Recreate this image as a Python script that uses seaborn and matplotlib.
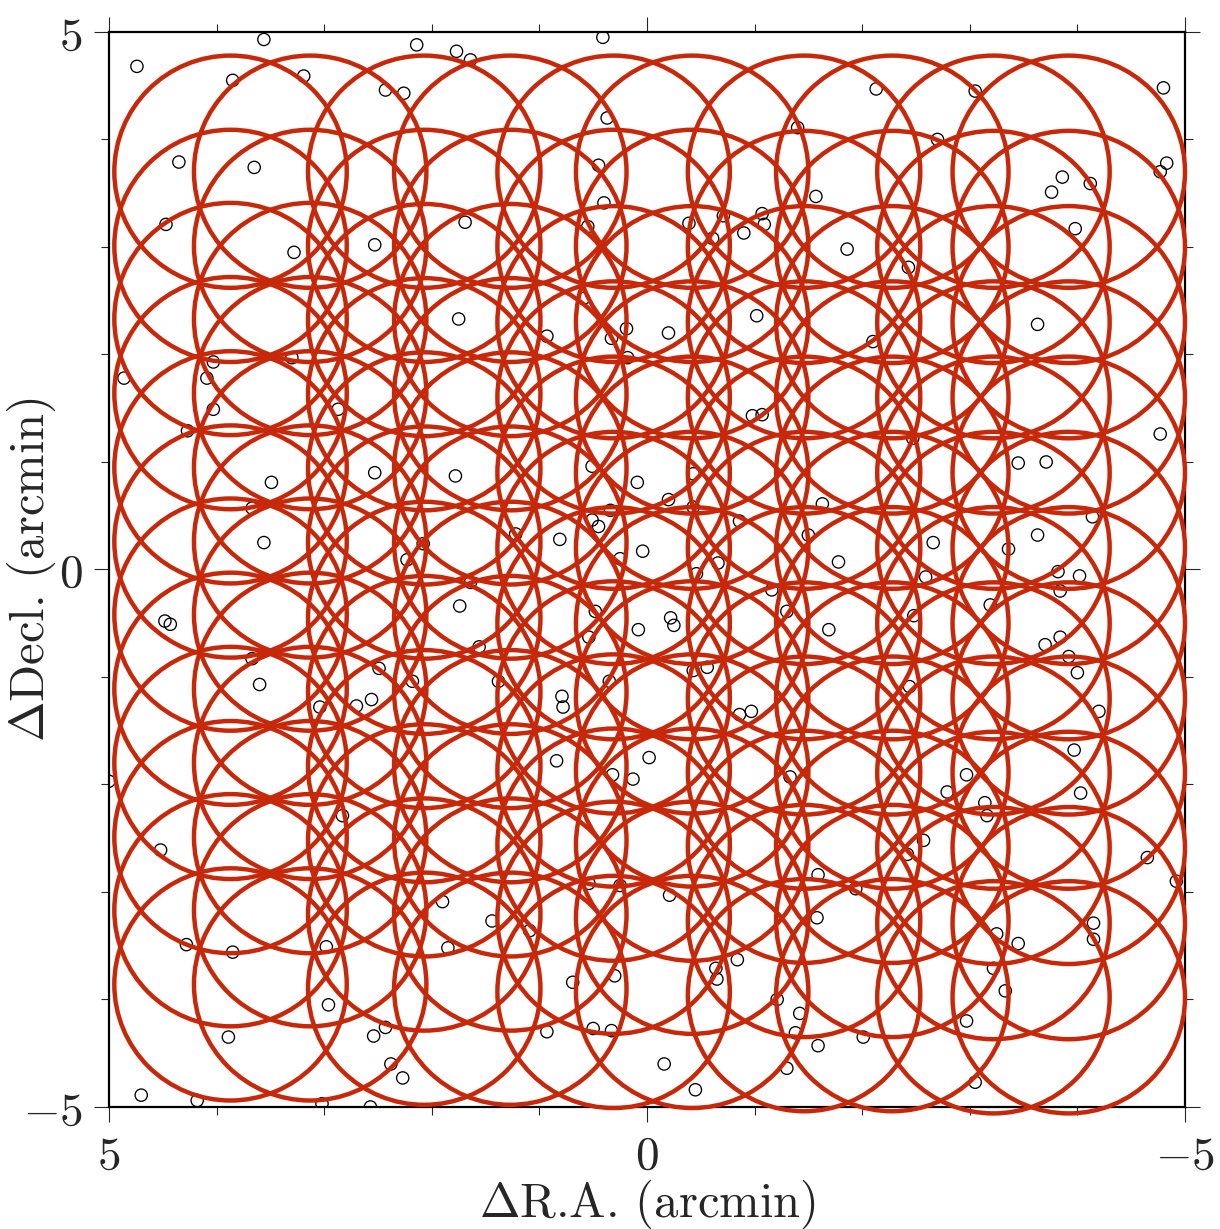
import pandas as pd
import seaborn as sns
import matplotlib.pyplot as plt
from matplotlib.patches import Circle
from matplotlib.ticker import MultipleLocator

# Pointing centres (arcmin). One R.A. per column, 12 declinations per column
col_ra = [3.87, 3.13, 2.07, 1.27, 0.31, -0.42, -1.46, -2.28, -3.22, -3.92]
dec_cols12 = [3.70, 3.01, 2.33, 1.64, 0.95, 0.26, -0.42, -1.11, -1.80, -2.49, -3.17, -3.86]
dec_cols34 = [3.70, 3.01, 2.32, 1.63, 0.94, 0.25, -0.45, -1.14, -1.83, -2.52, -3.21, -3.90]
dec_cols56 = [3.70, 3.01, 2.30, 1.60, 0.90, 0.20, -0.50, -1.19, -1.87, -2.56, -3.24, -3.93]
dec_cols78 = [3.70, 3.00, 2.30, 1.60, 0.90, 0.20, -0.50, -1.20, -1.89, -2.58, -3.27, -3.96]
dec_cols910 = [3.70, 3.00, 2.30, 1.60, 0.90, 0.20, -0.50, -1.20, -1.89, -2.59, -3.29, -3.98]
col_dec = [dec_cols12, dec_cols12, dec_cols34, dec_cols34, dec_cols56,
           dec_cols56, dec_cols78, dec_cols78, dec_cols910, dec_cols910]
beam_radius = 1.08

# Sources (arcmin offsets)
src_ra = [4.74, 3.56, 3.85, 3.19, 2.14, 1.77, 1.64, 2.43, 2.26, 0.41,
          -2.13, -3.05, -4.80, 0.37, -1.40, -2.70, 4.35, 3.65, 0.45, -4.83,
          -4.77, -3.86, -4.12, -3.76, -1.57, 0.40, 4.47, 1.69, 0.55, -0.39,
          -0.71, -1.07, -1.09, -0.90, -0.61, -3.98, 3.28, 2.53, -1.86, -2.43,
          1.75, -1.02, -3.63, 0.93, 0.19, 0.18, 0.33, -0.20, 3.30, -2.10,
          4.03, 4.09, 4.86, 4.03, 4.27, 2.87, -0.98, -1.07, -2.47, -4.77,
          2.53, 3.49, 1.78, 0.51, 0.09, -0.20, -3.45, -3.71, 3.67, 3.56,
          1.22, 0.81, 0.34, 0.45, 0.51, 0.25, 0.04, -0.43, -1.63, -1.50,
          -1.78, -0.86, -2.66, -3.36, -3.63, -4.14, 2.23, 2.08, 1.64, -1.16,
          -2.59, -3.82, -4.02, -3.84, 4.48, 4.43, 1.74, 1.56, 0.48, 0.54,
          0.08, -0.22, -0.25, -1.30, -1.69, -2.48, -3.19, -3.70, -3.84, -3.92,
          -4.00, 3.60, 2.18, 1.38, 0.79, 0.78, 0.35, -0.43, -0.56, 2.49,
          -2.44, -0.66, -0.46, 3.04, 2.70, 2.56, 5.00, 0.84, 0.32, 0.13,
          -0.02, -0.86, -0.97, -4.20, -3.97, -1.33, -2.79, -2.97, -3.14, -4.03,
          2.83, 4.52, -3.16, -2.57, -2.42, -1.59, -1.94, -4.65, -4.92, -0.21,
          0.54, 1.90, 4.28, 3.85, 2.98, 1.44, 1.09, 1.85, 0.69, 0.30,
          -1.58, -3.45, -3.25, -3.22, -3.33, -4.15, -4.15, -0.84, 2.96, 3.89,
          2.43, 2.54, 2.38, 2.27, 0.93, 0.50, 0.33, -0.16, -0.45, -2.97,
          -3.05, -1.21, -1.42, -1.38, -1.59, -1.30, -2.01, 4.70, 4.18, 3.02,
          2.57, -0.64, -0.65, 3.67, -0.43, 0.25, 0.59]
src_dec = [4.68, 4.93, 4.55, 4.59, 4.88, 4.82, 4.74, 4.46, 4.43, 4.95,
           4.47, 4.45, 4.48, 4.20, 4.11, 4.00, 3.79, 3.74, 3.76, 3.78,
           3.70, 3.65, 3.59, 3.51, 3.47, 3.41, 3.21, 3.23, 3.19, 3.22,
           3.29, 3.31, 3.21, 3.13, 3.08, 3.17, 2.95, 3.02, 2.98, 2.81,
           2.33, 2.36, 2.28, 2.17, 2.24, 1.97, 2.15, 2.20, 1.97, 2.12,
           1.93, 1.78, 1.78, 1.49, 1.29, 1.49, 1.43, 1.44, 1.22, 1.26,
           0.90, 0.81, 0.87, 0.96, 0.81, 0.65, 0.99, 1.00, 0.57, 0.25,
           0.33, 0.28, 0.55, 0.40, 0.46, 0.10, 0.17, 0.58, 0.61, 0.32,
           0.07, 0.45, 0.25, 0.19, 0.32, 0.49, 0.09, 0.24, -0.12, -0.19,
           -0.07, -0.02, -0.06, -0.20, -0.48, -0.51, -0.34, -0.72, -0.39, -0.63,
           -0.56, -0.45, -0.52, -0.39, -0.56, -0.43, -0.33, -0.70, -0.63, -0.81,
           -0.96, -1.07, -1.04, -1.04, -1.18, -1.28, -1.04, -0.94, -0.91, -0.92,
           -1.09, 0.06, -0.04, -1.28, -1.27, -1.21, -1.97, -1.78, -1.91, -1.95,
           -1.75, -1.35, -1.32, -1.32, -1.68, -1.93, -2.07, -1.91, -2.17, -2.08,
           -2.29, -2.61, -2.29, -2.52, -2.65, -2.84, -2.97, -2.68, -2.90, -3.03,
           -2.92, -3.09, -3.49, -3.56, -3.51, -3.27, -3.36, -3.52, -3.84, -3.78,
           -3.24, -3.48, -3.39, -3.71, -3.92, -3.29, -3.44, -3.63, -4.05, -4.35,
           -4.26, -4.34, -4.60, -4.73, -4.30, -4.27, -4.29, -4.60, -4.84, -4.20,
           -4.77, -4.00, -4.13, -4.31, -4.43, -4.64, -4.35, -4.89, -4.94, -4.97,
           -5.00, -3.71, -3.81, -0.83, 0.89, -2.94, 2.52]

major_ticks = [5, 0, -5]
tick_labels = [r'$5$', r'$0$', r'$-5$']

sns.set_style('ticks')
plt.rcParams['mathtext.fontset'] = 'cm'
plt.rcParams['font.family'] = ['DejaVu Serif']

fig = plt.figure(figsize=(12.2, 12.29), dpi=100)
ax = fig.add_axes([0.0893, 0.0993, 0.882, 0.8747])

df = pd.DataFrame({'ra': src_ra, 'dec': src_dec})
sns.scatterplot(data=df, x='ra', y='dec', ax=ax, s=78, facecolor='none',
                edgecolor='black', linewidth=0.95, zorder=2, legend=False)

beam_red = '#c8280a'
for ra, decs in zip(col_ra, col_dec):
    for d in decs:
        ax.add_patch(Circle((ra, d), beam_radius, fill=False, ec=beam_red,
                            lw=3.2, clip_on=False, zorder=3))

ax.set_xlim(5, -5)
ax.set_ylim(-5, 5)
ax.set_xticks(major_ticks)
ax.set_xticklabels(tick_labels)
ax.set_yticks(major_ticks)
ax.set_yticklabels(tick_labels)
ax.xaxis.set_minor_locator(MultipleLocator(1))
ax.yaxis.set_minor_locator(MultipleLocator(1))
ax.tick_params(which='major', direction='out', length=11, width=0.8,
               top=True, right=True, labelsize=34, pad=8)
ax.tick_params(which='minor', direction='out', length=5.5, width=0.8,
               top=True, right=True)
for sp in ax.spines.values():
    sp.set_linewidth(1.6)
    sp.set_color('black')

# Delta in mathtext, the rest in Computer Modern roman
ax.set_xlabel(r'$\Delta$R.A. (arcmin)', fontsize=35, family='cmr10')
ax.set_ylabel(r'$\Delta$Decl. (arcmin)', fontsize=35, family='cmr10')
ax.xaxis.set_label_coords(0.5, -0.066)
ax.yaxis.set_label_coords(-0.047, 0.5)

fig.savefig('out.png', dpi=100)
